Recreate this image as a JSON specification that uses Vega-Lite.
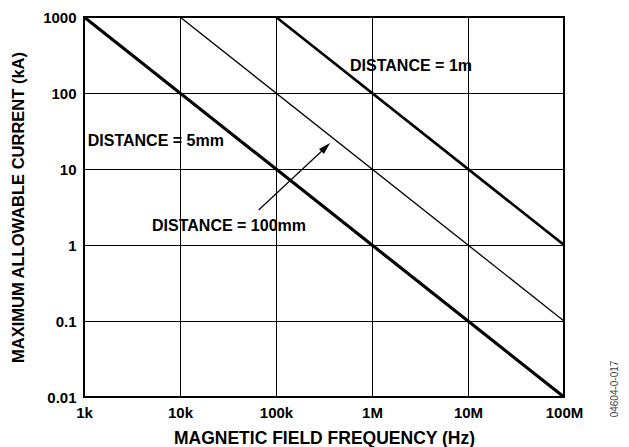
{
  "$schema": "https://vega.github.io/schema/vega-lite/v6.json",
  "width": 480,
  "height": 380,
  "autosize": "none",
  "padding": {"left": 84, "top": 17, "right": 65, "bottom": 50},
  "background": "white",
  "config": {
    "font": "Liberation Sans",
    "view": {"stroke": "black", "strokeWidth": 2},
    "axis": {
      "labelFont": "Liberation Sans",
      "labelFontWeight": "bold",
      "labelFontSize": 15,
      "labelColor": "black",
      "titleFont": "Liberation Sans",
      "titleFontWeight": "bold",
      "titleColor": "black",
      "grid": true,
      "gridColor": "black",
      "gridOpacity": 1,
      "gridWidth": 1,
      "ticks": false,
      "domain": false
    }
  },
  "title": {
    "text": "04604-0-017",
    "orient": "right",
    "anchor": "end",
    "frame": "group",
    "angle": -90,
    "align": "center",
    "dx": 8,
    "fontSize": 10,
    "fontWeight": "normal",
    "font": "Liberation Sans",
    "color": "#444444",
    "offset": 17
  },
  "datasets": {
    "lines": [
      {"series": "5mm", "f": 1000, "i": 1000},
      {"series": "5mm", "f": 100000000, "i": 0.01},
      {"series": "100mm", "f": 10000, "i": 1000},
      {"series": "100mm", "f": 100000000, "i": 0.1},
      {"series": "1m", "f": 100000, "i": 1000},
      {"series": "1m", "f": 100000000, "i": 1}
    ],
    "labels": [
      {"text": "DISTANCE = 1m", "f": 2550000, "i": 226},
      {"text": "DISTANCE = 5mm", "f": 5600, "i": 23.3},
      {"text": "DISTANCE = 100mm", "f": 32400, "i": 1.78}
    ],
    "arrow": [
      {"f": 66000, "i": 2.89, "f2": 324000, "i2": 18.9}
    ]
  },
  "layer": [
    {
      "data": {"name": "lines"},
      "transform": [{"filter": "datum.series === '100mm'"}],
      "mark": {"type": "line", "color": "black", "strokeWidth": 1.3, "clip": true},
      "encoding": {
        "x": {
          "field": "f",
          "type": "quantitative",
          "scale": {"type": "log", "domain": [1000, 100000000], "nice": false},
          "axis": {
            "values": [1000, 10000, 100000, 1000000, 10000000, 100000000],
            "labelExpr": "datum.value >= 1000000 ? format(datum.value/1000000, '~g') + 'M' : format(datum.value/1000, '~g') + 'k'",
            "labelPadding": 8,
            "labelFlush": false,
            "title": "MAGNETIC FIELD FREQUENCY (Hz)",
            "titleFontSize": 17.5,
            "titlePadding": 9
          }
        },
        "y": {
          "field": "i",
          "type": "quantitative",
          "scale": {"type": "log", "domain": [0.01, 1000], "nice": false},
          "axis": {
            "values": [0.01, 0.1, 1, 10, 100, 1000],
            "format": "~g",
            "labelPadding": 8,
            "labelFlush": false,
            "title": "MAXIMUM ALLOWABLE CURRENT (kA)",
            "titleFontSize": 16.5,
            "titlePadding": 16
          }
        }
      }
    },
    {
      "data": {"name": "lines"},
      "transform": [{"filter": "datum.series === '5mm'"}],
      "mark": {"type": "line", "color": "black", "strokeWidth": 3.2, "clip": true},
      "encoding": {
        "x": {"field": "f", "type": "quantitative"},
        "y": {"field": "i", "type": "quantitative"}
      }
    },
    {
      "data": {"name": "lines"},
      "transform": [{"filter": "datum.series === '1m'"}],
      "mark": {"type": "line", "color": "black", "strokeWidth": 2.6, "clip": true},
      "encoding": {
        "x": {"field": "f", "type": "quantitative"},
        "y": {"field": "i", "type": "quantitative"}
      }
    },
    {
      "data": {"name": "labels"},
      "mark": {"type": "text", "fontWeight": "bold", "fontSize": 16, "font": "Liberation Sans", "color": "black", "align": "center", "baseline": "middle"},
      "encoding": {
        "x": {"field": "f", "type": "quantitative"},
        "y": {"field": "i", "type": "quantitative"},
        "text": {"field": "text"}
      }
    },
    {
      "data": {"name": "arrow"},
      "mark": {"type": "rule", "color": "black", "strokeWidth": 1.2},
      "encoding": {
        "x": {"field": "f", "type": "quantitative"},
        "y": {"field": "i", "type": "quantitative"},
        "x2": {"field": "f2"},
        "y2": {"field": "i2"}
      }
    },
    {
      "data": {"name": "arrow"},
      "mark": {"type": "point", "shape": "M0,-1L0.5,0.7L-0.5,0.7Z", "filled": true, "color": "black", "opacity": 1, "size": 200, "angle": 46},
      "encoding": {
        "x": {"field": "f2", "type": "quantitative"},
        "y": {"field": "i2", "type": "quantitative"}
      }
    }
  ]
}
